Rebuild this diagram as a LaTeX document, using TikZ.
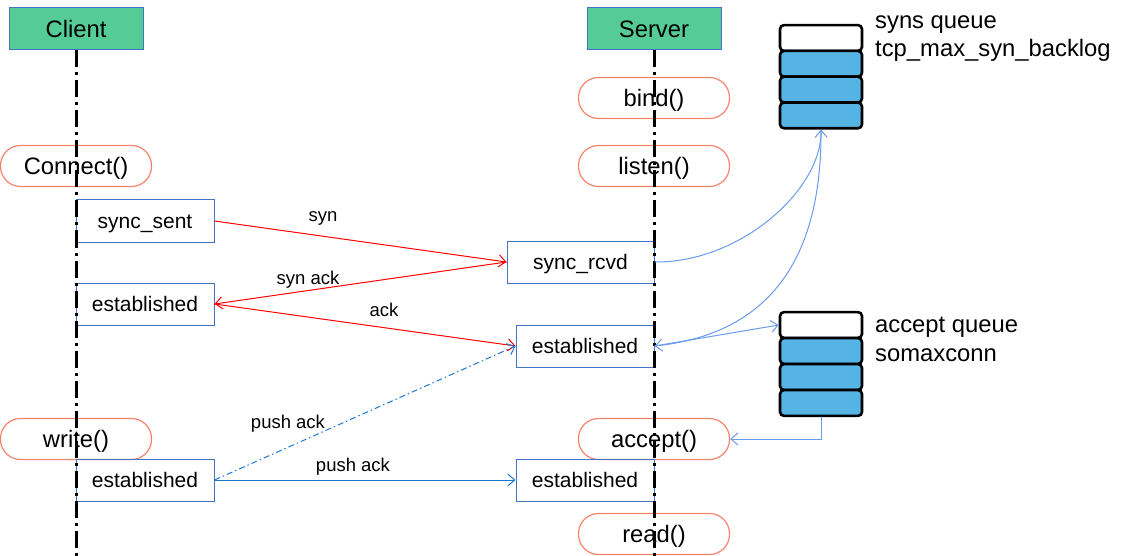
\documentclass[tikz,border=0pt]{standalone}
\usepackage{fontspec}
\setmainfont{Liberation Sans}
\usetikzlibrary{arrows.meta}
\definecolor{actgreen}{RGB}{85,204,150}
\definecolor{boxblue}{RGB}{68,114,196}
\definecolor{salmon}{RGB}{244,132,108}
\definecolor{qblue}{RGB}{86,180,228}
\definecolor{lblue}{RGB}{106,155,234}
\definecolor{pblue}{RGB}{30,120,210}
\tikzset{
  bigfont/.style={font=\fontsize{23.8}{26}\selectfont, text height=22pt, text depth=4.8pt},
  midfont/.style={font=\fontsize{21}{23}\selectfont, text height=19.3pt, text depth=4.2pt},
  lblfont/.style={font=\fontsize{18.5}{20}\selectfont, text height=17pt, text depth=3.7pt},
  actor/.style={bigfont, fill=actgreen, draw=boxblue, line width=1pt, minimum width=134pt, minimum height=42pt, inner sep=0pt},
  pill/.style={bigfont, draw=salmon, line width=1.2pt, rounded corners=20pt, minimum width=151pt, minimum height=41pt, inner sep=0pt},
  state/.style={midfont, draw=boxblue, line width=1pt, minimum width=138pt, minimum height=42pt, inner sep=0pt},
  qcell/.style={draw=black, line width=2.6pt, rounded corners=4pt, minimum width=82pt, minimum height=25.8pt, inner sep=0pt},
  qtext/.style={bigfont, anchor=west, inner sep=0pt},
  lifeline/.style={line width=3pt, black, dash pattern=on 17pt off 5pt on 3pt off 5pt},
  msg/.style={line width=1pt, -{Straight Barb[length=7pt,width=12pt]}},
  lbl/.style={lblfont, inner sep=0pt},
}
\begin{document}
\begin{tikzpicture}[x=1pt,y=-1pt]
\useasboundingbox (0,0) rectangle (1143,556);
% actors
\node[actor] (client) at (76,29) {Client};
\node[actor] (server) at (654,29) {Server};
% calls
\node[pill] (connect) at (76,166) {Connect()};
\node[pill] (bind) at (654,98) {bind()};
\node[pill] (listen) at (654,166) {listen()};
\node[pill] (write) at (76,439) {write()};
\node[pill] (accept) at (654,439) {accept()};
\node[pill] (read) at (654,534) {read()};
% states
\node[state] (ss) at (145,221) {sync\_sent};
\node[state] (ce1) at (145,304) {established};
\node[state, minimum width=147pt] (sr) at (580.5,262) {sync\_rcvd};
\node[state] (se1) at (585,346) {established};
\node[state] (ce2) at (145,480) {established};
\node[state] (se2) at (585,480) {established};
% syns queue
\node[qcell, fill=white] (sq1) at (821,38) {};
\node[qcell, fill=qblue] (sq2) at (821,63.8) {};
\node[qcell, fill=qblue] (sq3) at (821,89.6) {};
\node[qcell, fill=qblue] (sq4) at (821,115.4) {};
\node[qtext] (sqt1) at (875,20) {syns queue};
\node[qtext] (sqt2) at (875,48) {tcp\_max\_syn\_backlog};
% accept queue
\node[qcell, fill=white] (aq1) at (821,325) {};
\node[qcell, fill=qblue] (aq2) at (821,351) {};
\node[qcell, fill=qblue] (aq3) at (821,377) {};
\node[qcell, fill=qblue] (aq4) at (821,403) {};
\node[qtext] (aqt1) at (875,324) {accept queue};
\node[qtext] (aqt2) at (875,353) {somaxconn};
% lifelines
\coordinate (cend) at (76,556);
\coordinate (send) at (654,556);
\draw[lifeline] (client.south) -- (cend);
\draw[lifeline] (server.south) -- (send);
% handshake
\draw[msg, red] (ss.east) -- (sr.west);
\draw[msg, red] (sr.west) -- (ce1.east);
\draw[msg, red] (ce1.east) -- (se1.west);
\node[lbl] (l1) at (323,215) {syn};
\node[lbl] (l2) at (308,278) {syn ack};
\node[lbl] (l3) at (384,310) {ack};
% push ack
\draw[msg, pblue, dash pattern=on 6pt off 3pt on 1.5pt off 3pt] (ce2.east) -- (se1.west);
\draw[msg, pblue] (ce2.east) -- (se2.west);
\node[lbl] (l4) at (288,422) {push ack};
\node[lbl] (l5) at (353,465) {push ack};
% queue links
\draw[msg, lblue] (sr.east) .. controls (740,263) and (822,190) .. (sq4.south);
\draw[msg, lblue] (sq4.south) .. controls (822,270) and (760,335) .. (se1.east);
\draw[msg, lblue] (se1.east) -- (aq1.west);
\draw[msg, lblue] (aq4.south) |- (accept.east);
\end{tikzpicture}
\end{document}
